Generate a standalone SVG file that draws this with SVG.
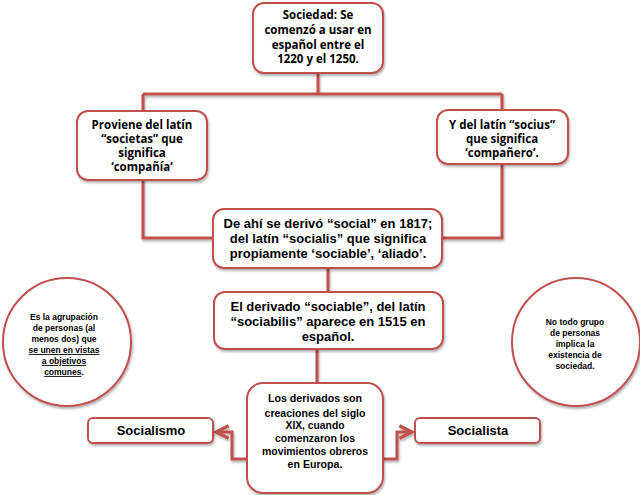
<svg xmlns="http://www.w3.org/2000/svg" width="640" height="495" viewBox="0 0 640 495">
<defs>
<filter id="sh" filterUnits="userSpaceOnUse" x="0" y="0" width="640" height="495">
<feDropShadow dx="1" dy="2" stdDeviation="1.2" flood-color="#000" flood-opacity="0.3"/>
</filter>
<marker id="arr" viewBox="0 0 10 10" refX="8" refY="5" markerWidth="6" markerHeight="6" orient="auto-start-reverse">
<path d="M1,1.5 L8,5 L1,8.5" fill="none" stroke="#C0504D" stroke-width="1.8"/>
</marker>
<style>
.box{fill:#fff;stroke:#C0504D;stroke-width:2;filter:url(#sh)}
.con{fill:none;stroke:#C0504D;stroke-width:3;filter:url(#sh)}
.g{font-family:"Open Sans","Liberation Sans",sans-serif;font-weight:bold;font-size:11.5px;fill:#000;text-anchor:middle}
.a{font-family:"Liberation Sans",Arial,sans-serif;font-weight:bold;font-size:13px;fill:#000;text-anchor:middle}
.b{font-family:"Liberation Sans",Arial,sans-serif;font-weight:bold;font-size:10.5px;fill:#000;text-anchor:middle}
.s{font-family:"Liberation Sans",Arial,sans-serif;font-weight:bold;font-size:8.5px;fill:#000;text-anchor:middle}
</style>
</defs>
<rect width="640" height="495" fill="#fff"/>
<g id="connectors">
<path class="con" d="M318,73 V94 M143,94 H502 M143,94 V111 M502,94 V110"/>
<path class="con" d="M143,180 V238 H213 M502,164 V238 H442"/>
<path class="con" d="M328,268 V292"/>
<path class="con" d="M317,349 V383"/>
<path class="con" d="M247,459 H232 V432 H216" marker-end="url(#arr)"/>
<path class="con" d="M383,459 H397 V432 H412" marker-end="url(#arr)"/>
</g>
<g id="n-sociedad">
<rect class="box" x="253" y="3" width="130" height="70" rx="11"/>
<text class="g" x="318" y="19">Sociedad: Se</text>
<text class="g" x="318" y="34">comenzó a usar en</text>
<text class="g" x="318" y="49">español entre el</text>
<text class="g" x="318" y="63">1220 y el 1250.</text>
</g>
<g id="n-societas">
<rect class="box" x="77" y="111" width="130" height="69" rx="11"/>
<text class="g" x="142" y="129">Proviene del latín</text>
<text class="g" x="142" y="143">“societas” que</text>
<text class="g" x="142" y="157">significa</text>
<text class="g" x="142" y="171">‘compañía’</text>
</g>
<g id="n-socius">
<rect class="box" x="437" y="110" width="131" height="54" rx="11"/>
<text class="g" x="502" y="129">Y del latín “socius”</text>
<text class="g" x="502" y="143">que significa</text>
<text class="g" x="502" y="157">‘compañero’.</text>
</g>
<g id="n-social">
<rect class="box" x="213" y="209" width="229" height="59" rx="11"/>
<text class="a" x="328" y="228">De ahí se derivó “social” en 1817;</text>
<text class="a" x="328" y="243">del latín “socialis” que significa</text>
<text class="a" x="328" y="258">propiamente ‘sociable’, ‘aliado’.</text>
</g>
<g id="n-sociable">
<rect class="box" x="214" y="292" width="229" height="57" rx="11"/>
<text class="a" x="328" y="311">El derivado “sociable”, del latín</text>
<text class="a" x="328" y="326">“sociabilis” aparece en 1515 en</text>
<text class="a" x="328" y="341">español.</text>
</g>
<g id="n-derivados">
<rect class="box" x="247" y="383" width="136" height="110" rx="16"/>
<text class="b" x="315" y="402" textLength="94" lengthAdjust="spacingAndGlyphs">Los derivados son</text>
<text class="b" x="315" y="416.5" textLength="101" lengthAdjust="spacingAndGlyphs">creaciones del siglo</text>
<text class="b" x="315" y="428.5" textLength="59" lengthAdjust="spacingAndGlyphs">XIX, cuando</text>
<text class="b" x="315" y="441.5" textLength="80" lengthAdjust="spacingAndGlyphs">comenzaron los</text>
<text class="b" x="315" y="455" textLength="106" lengthAdjust="spacingAndGlyphs">movimientos obreros</text>
<text class="b" x="315" y="467.5" textLength="55" lengthAdjust="spacingAndGlyphs">en Europa.</text>
</g>
<g id="n-socialismo">
<rect class="box" x="88" y="418" width="125" height="25" rx="5"/>
<text class="a" x="151" y="435">Socialismo</text>
</g>
<g id="n-socialista">
<rect class="box" x="415" y="418" width="125" height="25" rx="5"/>
<text class="a" x="478" y="435">Socialista</text>
</g>
<g id="n-agrupacion">
<circle cx="67" cy="342" r="64" fill="#fff" stroke="#C0504D" stroke-width="2" filter="url(#sh)"/>
<text class="s" x="64" y="320">Es la agrupación</text>
<text class="s" x="64" y="331">de personas (al</text>
<text class="s" x="64" y="342">menos dos) que</text>
<text class="s" x="64" y="353" text-decoration="underline">se unen en vistas</text>
<text class="s" x="64" y="364" text-decoration="underline">a objetivos</text>
<text class="s" x="64" y="375"><tspan text-decoration="underline">comunes</tspan>.</text>
</g>
<g id="n-notodo">
<circle cx="576" cy="342" r="64" fill="#fff" stroke="#C0504D" stroke-width="2" filter="url(#sh)"/>
<text class="s" x="575" y="325">No todo grupo</text>
<text class="s" x="575" y="336">de personas</text>
<text class="s" x="575" y="347">implica la</text>
<text class="s" x="575" y="358">existencia de</text>
<text class="s" x="575" y="369">sociedad.</text>
</g>
</svg>
